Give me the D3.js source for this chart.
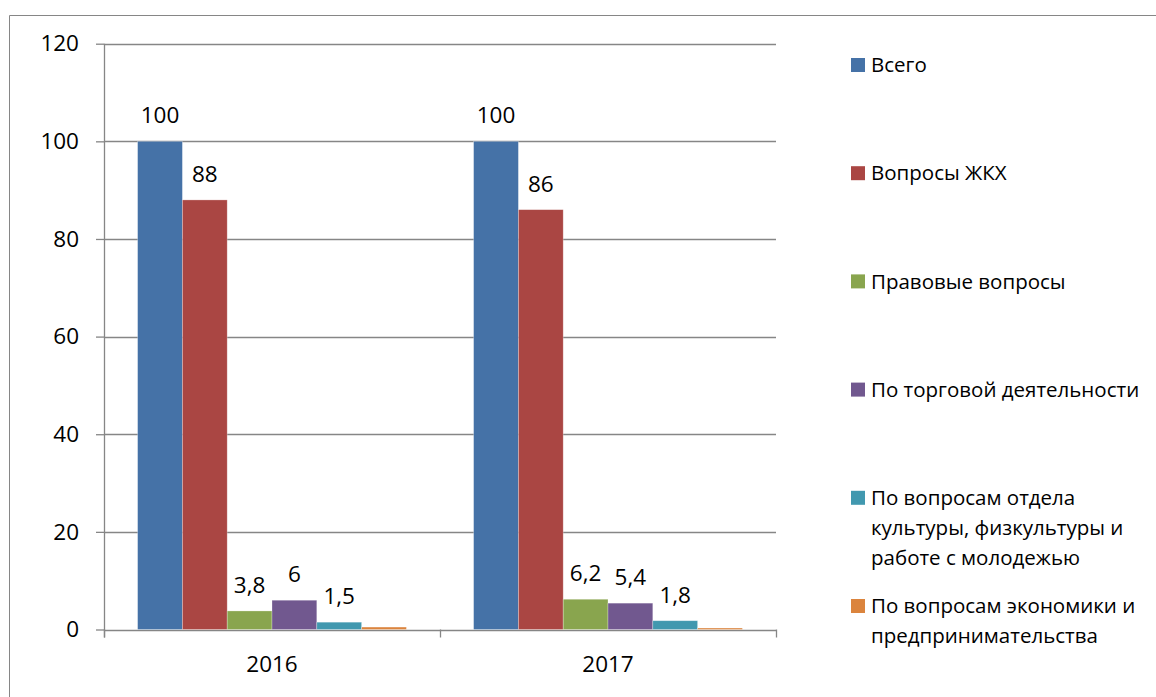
<!DOCTYPE html>
<html><head><meta charset="utf-8">
<script src="https://cdn.jsdelivr.net/npm/d3@7"></script>
<style>
html,body{margin:0;padding:0;background:#fff;}
svg{display:block;font-family:"Open Sans",Lato,sans-serif;}
</style></head>
<body><svg id="chart" width="1156" height="697"></svg>
<script>
const years = ["2016", "2017"];
const seriesNames = ["Всего", "Вопросы ЖКХ", "Правовые вопросы", "По торговой деятельности",
  "По вопросам отдела культуры, физкультуры и работе с молодежью",
  "По вопросам экономики и предпринимательства"];
const legendLines = [["Всего"], ["Вопросы ЖКХ"], ["Правовые вопросы"], ["По торговой деятельности"],
  ["По вопросам отдела", "культуры, физкультуры и", "работе с молодежью"],
  ["По вопросам экономики и", "предпринимательства"]];
const values2016 = [100, 88, 3.8, 6, 1.5, 0.5];
const values2017 = [100, 86, 6.2, 5.4, 1.8, 0.3];
const showLabel = [true, true, true, true, true, false];
const colors = ["#4572A7", "#AA4643", "#89A54E", "#71588F", "#4198AF", "#DB843D"];
const yTicks = [0, 20, 40, 60, 80, 100, 120];

(function () {
const svg = d3.select("#chart");
const gridColor = "#868686";
const numSize = 22.5;

// outer frame
svg.append("path").attr("d", "M9.5,697 V15.5 H1156").attr("fill", "none").attr("stroke", gridColor).attr("stroke-width", 1);

const pLeft = 104, pRight = 776, pTop = 43.7, pBottom = 629.5;
const xCat = d3.scaleBand().domain(years).range([pLeft, pRight]);
const y = d3.scaleLinear().domain([0, 120]).range([pBottom, pTop]);
const inner = d3.scaleBand().domain(d3.range(seriesNames.length));

const data = years.map((yr, i) => ({ year: yr, values: i === 0 ? values2016 : values2017 }));

// gridlines
svg.append("g").selectAll("line").data(yTicks).join("line")
  .attr("x1", pLeft).attr("x2", pRight)
  .attr("y1", d => Math.round(y(d)) + 0.5).attr("y2", d => Math.round(y(d)) + 0.5)
  .attr("stroke", gridColor).attr("stroke-width", 1.3);

// y axis
const yAxis = d3.axisLeft(y).tickValues(yTicks).tickSize(8).tickPadding(17).tickFormat(d3.format("d"));
const gy = svg.append("g").attr("transform", `translate(${pLeft},0)`).call(yAxis);
gy.select(".domain").remove();
gy.selectAll(".tick line").attr("stroke", gridColor).attr("stroke-width", 1.3);
gy.selectAll(".tick text").attr("font-size", numSize).attr("fill", "#000").attr("font-family", "Open Sans");
svg.append("line").attr("x1", pLeft + 0.5).attr("x2", pLeft + 0.5).attr("y1", pTop).attr("y2", pBottom + 8)
  .attr("stroke", gridColor).attr("stroke-width", 1.3);

// x axis ticks at boundaries
const bounds = [pLeft, ...years.map(yr => xCat(yr) + xCat.bandwidth())];
svg.append("g").selectAll("line").data(bounds).join("line")
  .attr("x1", d => Math.round(d) + 0.5).attr("x2", d => Math.round(d) + 0.5)
  .attr("y1", pBottom).attr("y2", pBottom + 8)
  .attr("stroke", gridColor).attr("stroke-width", 1.3);
svg.append("g").selectAll("text").data(years).join("text")
  .attr("x", d => xCat(d) + xCat.bandwidth() / 2).attr("y", 672)
  .attr("text-anchor", "middle").attr("font-size", numSize).attr("fill", "#000").text(d => d);

// bars
const groups = svg.append("g").selectAll("g").data(data).join("g")
  .attr("transform", d => `translate(${xCat(d.year)},0)`);
inner.range([xCat.bandwidth() * 0.1, xCat.bandwidth() * 0.9]);
groups.selectAll("rect").data(d => d.values).join("rect")
  .attr("x", (d, i) => inner(i)).attr("width", inner.bandwidth())
  .attr("y", d => y(d)).attr("height", d => pBottom - y(d))
  .attr("fill", (d, i) => colors[i])
  .attr("stroke", "#fff").attr("stroke-opacity", 0.4).attr("stroke-width", 0.7);

const fmt = v => String(v).replace(".", ",");
groups.selectAll("text").data(d => d.values.map((v, i) => ({ v, i })).filter(o => showLabel[o.i]))
  .join("text")
  .attr("x", o => inner(o.i) + inner.bandwidth() / 2)
  .attr("y", o => y(o.v) - 18)
  .attr("text-anchor", "middle").attr("font-size", numSize).attr("fill", "#000")
  .text(o => fmt(o.v));

// legend
const lg = svg.append("g").attr("transform", "translate(851,0)");
const entries = lg.selectAll("g").data(legendLines).join("g")
  .attr("transform", (d, i) => `translate(0,${65 + i * 108.2})`);
entries.append("rect").attr("x", 0).attr("y", -7).attr("width", 14).attr("height", 14)
  .attr("fill", (d, i) => colors[i]);
entries.each(function (lines) {
  const t = d3.select(this).append("text").attr("x", 20).attr("y", 0)
    .attr("font-size", 20.5).attr("fill", "#000");
  lines.forEach((ln, k) => {
    t.append("tspan").attr("x", 20).attr("y", k * 30).attr("dy", "0.35em").text(ln);
  });
});
})();
</script></body></html>
